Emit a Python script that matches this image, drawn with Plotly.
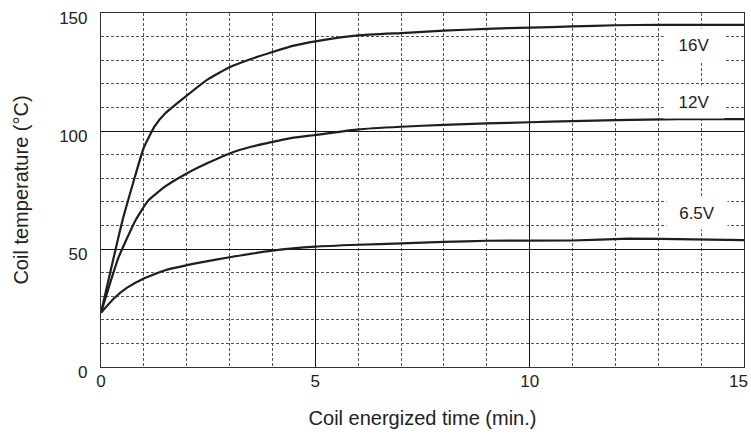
import plotly.graph_objects as go

# Data
x_16v = [0, 0.5, 1.0, 1.25, 1.5, 2, 2.5, 3, 3.5, 4, 4.5, 5, 6, 7, 8, 9, 10, 11, 12, 13, 15]
y_16v = [23, 62, 93, 102, 107.5, 115, 122, 127, 130.5, 133.5, 136.2, 138, 140.5, 141.5, 142.5, 143.3, 143.8, 144.3, 144.8, 145, 145]

x_12v = [0, 0.4, 0.8, 1.1, 1.5, 2, 2.5, 3, 3.5, 4.4, 5, 6, 7, 8, 9, 10, 11, 12, 13.5, 15]
y_12v = [23, 46, 62, 70.5, 76.5, 82, 86.5, 90.5, 93.3, 96.9, 98.3, 100.7, 101.8, 102.6, 103.2, 103.7, 104.2, 104.6, 105, 105]

x_65v = [0, 0.3, 0.6, 1, 1.5, 2.3, 3, 4, 5, 6, 7, 8, 9, 11, 12.3, 13.8, 15]
y_65v = [23, 29, 33.5, 37.5, 41, 44.2, 46.5, 49.3, 51, 51.8, 52.4, 53, 53.5, 53.6, 54.4, 54.1, 53.8]

labels = ["16V", "12V", "6.5V"]
label_x = [13.83, 13.83, 13.9]
label_y = [136.4, 112.3, 65.3]

x_ticks = [0, 5, 10, 15]
x_ticktext = ["0", "5", "10", "15"]
y_ticks = [0, 50, 100, 150]
y_ticktext = ["0", "50", "100", "150"]

FONT = "Liberation Sans, Arial"

fig = go.Figure()
for xs, ys in [(x_16v, y_16v), (x_12v, y_12v), (x_65v, y_65v)]:
    fig.add_trace(go.Scatter(x=xs, y=ys, mode="lines",
                             line=dict(color="#1e1e1e", width=2.2, shape="spline", smoothing=0.4),
                             showlegend=False, hoverinfo="skip"))

for t, lx, ly in zip(labels, label_x, label_y):
    fig.add_annotation(x=lx, y=ly, text=t, showarrow=False,
                       font=dict(family=FONT, size=17, color="#222"),
                       bgcolor="white", width=58, height=30)

# Last x tick label is drawn right-aligned at the axis end so it stays inside the page
fig.add_annotation(x=x_ticks[-1], y=0, xref="x", yref="paper", text=x_ticktext[-1],
                   showarrow=False, xanchor="right", yanchor="top",
                   xshift=5, yshift=-4, borderpad=0,
                   font=dict(family=FONT, size=17, color="#222"))

axis_common = dict(
    showline=True, linecolor="#333", linewidth=1.2, mirror=True,
    showgrid=True, gridcolor="#111", gridwidth=1,
    zeroline=False, ticks="", automargin=False, ticklabeloverflow="allow",
    tickfont=dict(family=FONT, size=17, color="#222"),
)

fig.update_xaxes(range=[0, 15], tickvals=x_ticks[:-1], ticktext=x_ticktext[:-1],
                 ticklabelstandoff=-2,
                 minor=dict(dtick=1, showgrid=True, gridcolor="#555", gridwidth=1, griddash="3px,2px"),
                 title=dict(text="Coil energized time (min.)", standoff=21,
                            font=dict(family=FONT, size=20, color="#222")),
                 **axis_common)
fig.update_yaxes(range=[0, 150], tickvals=y_ticks, ticktext=y_ticktext,
                 ticklabelstandoff=9, ticklabelshift=5,
                 minor=dict(dtick=10, showgrid=True, gridcolor="#555", gridwidth=1, griddash="3px,2px"),
                 title=dict(text="Coil temperature (°C)", standoff=25,
                            font=dict(family=FONT, size=20, color="#222")),
                 **axis_common)

fig.update_layout(width=751, height=439,
                  margin=dict(l=101, r=7, t=13, b=72),
                  paper_bgcolor="white", plot_bgcolor="white",
                  showlegend=False)

# remove the default 8px body margin of the page so the figure fills the window
fig.write_html("out.html", config={"displayModeBar": False},
               post_script="document.body.style.margin='0';")
